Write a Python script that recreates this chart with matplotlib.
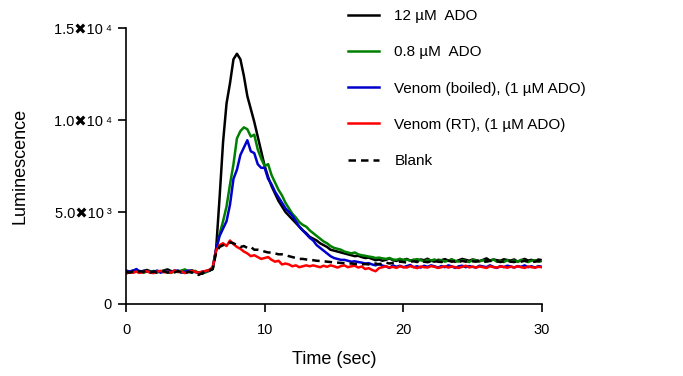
import matplotlib
matplotlib.use('Agg')
import matplotlib.pyplot as plt
import numpy as np

plt.rcParams['font.family'] = ['Liberation Sans', 'DejaVu Sans']

# time axis, one reading every 0.25 s
time = np.linspace(0, 30, 121)

ado_12 = [1800, 1750, 1820, 1760, 1700, 1790, 1850, 1780, 1720, 1800,
          1760, 1830, 1880, 1790, 1740, 1810, 1760, 1700, 1780, 1830,
          1760, 1690, 1640, 1750, 1800,
          1900, 3000, 5800, 8800, 10900, 12000, 13300, 13600, 13300, 12400,
          11300, 10600, 9900, 9100, 8300, 7500, 6900, 6400, 6000, 5600,
          5300, 5000, 4800, 4600, 4400, 4200, 4000, 3850, 3650, 3550,
          3450, 3300, 3200, 3100, 2950, 2900, 2850, 2800, 2750, 2700,
          2650, 2600, 2620, 2550, 2500, 2520,
          2450, 2380, 2420, 2350, 2400, 2480, 2380, 2340, 2420, 2390,
          2450, 2360, 2400, 2330, 2420, 2380, 2460, 2350, 2300, 2400,
          2380, 2440, 2360, 2420, 2300, 2380, 2450, 2400, 2350, 2420,
          2380, 2330, 2400, 2480, 2360, 2420, 2380, 2350, 2430, 2390,
          2360, 2420, 2300, 2380, 2450, 2360, 2400, 2330, 2420, 2380]

ado_08 = [1700, 1780, 1720, 1760, 1800, 1690, 1770, 1740, 1800, 1720,
          1770, 1810, 1750, 1690, 1780, 1740, 1820, 1880, 1760, 1700,
          1800, 1680, 1750, 1720, 1820,
          1900, 2900, 3800, 4500, 5300, 6500, 7600, 9000, 9400, 9600,
          9500, 9100, 9200, 8400, 7900, 7500, 7600, 7000, 6600, 6200,
          5900, 5500, 5200, 4900, 4700, 4450, 4300, 4200, 4000, 3850,
          3700, 3550, 3400, 3300, 3150, 3050, 3000, 2950, 2850, 2800,
          2750, 2800, 2700, 2650, 2620, 2580,
          2550, 2500, 2520, 2480, 2450, 2500, 2420, 2400, 2460, 2380,
          2420, 2350, 2400, 2440, 2380, 2320, 2400, 2360, 2420, 2340,
          2380, 2300, 2360, 2420, 2350, 2300, 2380, 2340, 2280, 2400,
          2360, 2320, 2380, 2300, 2340, 2420, 2300, 2350, 2280, 2380,
          2320, 2360, 2300, 2400, 2340, 2280, 2350, 2380, 2300, 2340]

venom_boiled = [1820, 1760, 1800, 1900, 1750, 1800, 1780, 1720, 1760, 1810,
                1700, 1780, 1760, 1740, 1820, 1800, 1700, 1760, 1820, 1780,
                1730, 1700, 1750, 1780, 1850,
                1950, 3000, 3700, 4100, 4500, 5400, 6800, 7300, 8100, 8500,
                8900, 8300, 8200, 7600, 7400, 7400, 6800, 6500, 6100, 5800,
                5500, 5200, 5000, 4800, 4500, 4200, 4000, 3800, 3600, 3450,
                3200, 3050, 2900, 2750, 2600, 2500, 2450, 2400, 2400, 2350,
                2300, 2320, 2280, 2250, 2200, 2220,
                2150, 2100, 2180, 2080, 2050, 1960, 2100, 2020, 2080, 2000,
                2060, 2120, 2000, 2050, 1980, 2080, 2020, 2100, 2050, 1980,
                2060, 2000, 2100, 2040, 1960, 2050, 2080, 2000, 2060, 2020,
                1980, 2080, 2040, 2000, 2100, 2020, 1960, 2060, 2000, 2080,
                2040, 1980, 2060, 2020, 2100, 2000, 2050, 1980, 2060, 2020]

venom_rt = [1650, 1720, 1700, 1760, 1690, 1740, 1780, 1700, 1680, 1760,
            1800, 1720, 1750, 1700, 1820, 1740, 1760, 1680, 1730, 1800,
            1750, 1700, 1760, 1800, 1850,
            2000, 2900, 3200, 3300, 3150, 3450, 3250, 3100, 3000, 2850,
            2750, 2600, 2650, 2550, 2450, 2500, 2550, 2400, 2300, 2350,
            2150, 2200, 2150, 2050, 2100, 2000, 2050, 2100, 2050, 2100,
            2050, 2000, 2080, 2020, 2100, 2050, 1980, 2060, 2100, 2000,
            2050, 2080, 1980, 2040, 1900, 1950,
            1850, 1780, 1950, 2000, 2050, 1980, 2020, 1960, 2050, 2000,
            1980, 2060, 2000, 1950, 2040, 2000, 1980, 2060, 2020, 1960,
            2000, 2050, 1980, 2040, 2000, 1960, 2020, 2080, 1990, 2030,
            1980, 2040, 2000, 1960, 2050, 2000, 1980, 2040, 2020, 1970,
            2030, 1990, 2050, 2000, 1960, 2040, 2000, 1980, 2020, 2000]

blank = [1750, 1700, 1760, 1720, 1780, 1750, 1800, 1720, 1760, 1700,
         1740, 1780, 1700, 1760, 1720, 1790, 1700, 1680, 1750, 1720,
         1600, 1580, 1700, 1760, 1820,
         1900, 2800, 3100, 3200, 3250, 3350, 3300, 3200, 3100, 3150,
         3050, 3100, 2950, 2950, 2900, 2850, 2800, 2800, 2750, 2700,
         2700, 2650, 2600, 2550, 2500, 2450, 2450, 2420, 2400, 2380,
         2350, 2340, 2320, 2300, 2280, 2260, 2250, 2230, 2220, 2200,
         2200, 2180, 2160, 2150, 2170, 2150,
         2180, 2200, 2150, 2220, 2250, 2200, 2230, 2260, 2300, 2280,
         2250, 2300, 2320, 2280, 2350, 2300, 2270, 2320, 2340, 2300,
         2280, 2330, 2350, 2300, 2320, 2280, 2340, 2300, 2360, 2320,
         2300, 2340, 2280, 2320, 2350, 2300, 2330, 2280, 2320, 2350,
         2300, 2280, 2330, 2300, 2350, 2320, 2280, 2300, 2340, 2320]

labels = ['12 µM  ADO', '0.8 µM  ADO', 'Venom (boiled), (1 µM ADO)',
          'Venom (RT), (1 µM ADO)', 'Blank']
yticks = [0, 5000, 10000, 15000]
ytick_labels = ['0', '5.0✖10\u2009³', '1.0✖10\u2009⁴', '1.5✖10\u2009⁴']

fig = plt.figure(figsize=(6.83, 3.76), dpi=100)
ax = fig.add_axes([0.1845, 0.1915, 0.609, 0.734])

lw = 1.8
ax.plot(time, ado_12, color='black', lw=lw, label=labels[0])
ax.plot(time, ado_08, color='#008000', lw=lw, label=labels[1])
ax.plot(time, venom_boiled, color='#0000CC', lw=lw, label=labels[2])
ax.plot(time, venom_rt, color='#FF0000', lw=lw, label=labels[3])
ax.plot(time, blank, color='black', lw=lw, ls=(0, (3, 2)), label=labels[4])

ax.set_xlim(0, 30)
ax.set_ylim(0, 15000)
ax.set_xticks([0, 10, 20, 30])
ax.set_yticks(yticks)
ax.set_yticklabels(ytick_labels)
ax.spines['top'].set_visible(False)
ax.spines['right'].set_visible(False)
for s in ['left', 'bottom']:
    ax.spines[s].set_linewidth(1.2)
ax.tick_params(axis='both', width=1.2, length=6, labelsize=10.5, color='black')
ax.tick_params(axis='x', pad=8)
ax.tick_params(axis='y', pad=4)

ax.set_xlabel('Time (sec)', fontsize=13, labelpad=10)
ax.set_ylabel('Luminescence', fontsize=13, labelpad=18)

fig.legend(loc='upper left', bbox_to_anchor=(0.49, 1.012), frameon=False,
           fontsize=11, handlelength=2.0, handletextpad=1.0, labelspacing=1.45)

fig.savefig('out.png', dpi=100)
